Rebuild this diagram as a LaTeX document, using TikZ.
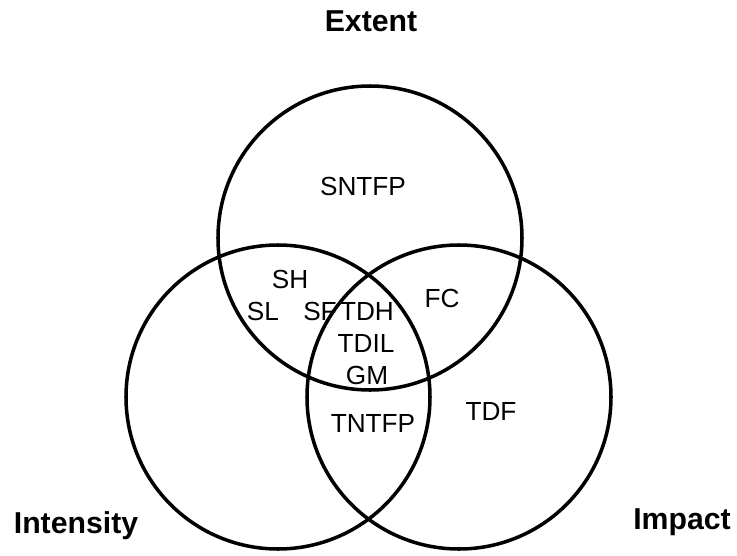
\documentclass[tikz,border=0pt]{standalone}
\usepackage{fontspec}
\setmainfont{Liberation Sans}
\usepackage{tikz}
\usepackage{xcolor}
\usetikzlibrary{positioning}

\tikzset{
    ring/.style={line width=2pt},
    lbl/.style={anchor=base, inner sep=0pt, font=\fontsize{14.9}{17}\selectfont},
    ttl/.style={anchor=base, inner sep=0pt, font=\fontsize{17.2}{20}\selectfont\bfseries}
}

\begin{document}
\begin{tikzpicture}
            \useasboundingbox (0,0) rectangle (14.74,11.1);
            % Tres conjuntos
            \foreach \cx/\cy in {7.40/6.34,5.56/3.16,9.18/3.16} {
                \draw[ring] (\cx,\cy) circle (3.04);
            }
            
            % Titulos
            \node[ttl] (extent) at (7.42,10.48) {Extent};
            \node[ttl] (intensity) at (1.52,0.44) {Intensity};
            \node[ttl] (impact) at (13.64,0.52) {Impact};
            
            % Etiquetas de las regiones
            \foreach \x/\y/\nm/\txt in {7.26/7.20/sntfp/SNTFP,5.80/5.34/sh/SH,5.26/4.70/sl/SL,
                6.40/4.70/sf/SF,7.34/4.70/tdh/TDH,7.32/4.06/tdil/TDIL,7.34/3.42/gm/GM,
                7.46/2.46/tntfp/TNTFP,8.84/4.96/fc/FC,9.82/2.70/tdf/TDF} {
                \node[lbl] (\nm) at (\x,\y) {\txt};
            }
        \end{tikzpicture}
\end{document}
